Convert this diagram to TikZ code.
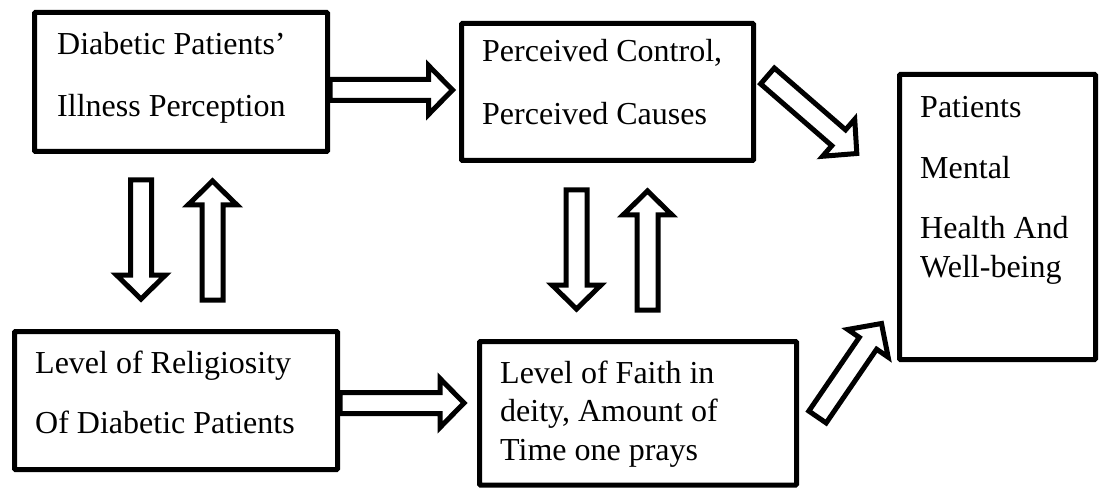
\documentclass[tikz,border=0pt]{standalone}
\usepackage{fontspec}
\setmainfont{Liberation Serif}
\usetikzlibrary{calc}
\tikzset{
  box/.style={draw=black, line width=5pt, inner sep=0pt, rounded corners=1pt},
  txt/.style={anchor=base west, inner sep=0pt, align=left, font=\fontsize{32}{38.5}\selectfont},
  barrow/.style={draw=black, line width=5pt, line join=miter, miter limit=10}
}
\newcommand{\blockarrow}[2]{%
  \path #1 coordinate (ba-s) #2 coordinate (ba-e);
  \path ($(ba-e)!24pt!(ba-s)$) coordinate (ba-h);
  \draw[barrow] ($(ba-s)!10.5pt!90:(ba-e)$) -- ($(ba-h)!10.5pt!-90:(ba-s)$)
     -- ($(ba-h)!24.5pt!-90:(ba-s)$) -- (ba-e) -- ($(ba-h)!24.5pt!90:(ba-s)$)
     -- ($(ba-h)!10.5pt!90:(ba-s)$) -- ($(ba-s)!10.5pt!-90:(ba-e)$) -- cycle;
}
\begin{document}
\begin{tikzpicture}[x=1pt,y=1pt]
\useasboundingbox (0,0) rectangle (1100,488);
% boxes
\node[box, minimum width=293pt, minimum height=139pt] (b1) at (181,406) {};
\node[box, minimum width=292pt, minimum height=137pt] (b2) at (607.5,396) {};
\node[box, minimum width=323pt, minimum height=138pt] (b3) at (176,87.5) {};
\node[box, minimum width=317pt, minimum height=143.5pt] (b4) at (638,74.75) {};
\node[box, minimum width=196pt, minimum height=285pt] (b5) at (997.5,271) {};
% texts (anchored at the baseline of the last line)
\node[txt] (t1) at (57,371) {Diabetic Patients’\\[23.5pt]Illness Perception};
\node[txt] (t2) at (482,363) {Perceived Control,\\[24.5pt]Perceived Causes};
\node[txt] (t3) at (35,55) {Level of Religiosity\\[21.5pt]Of Diabetic Patients};
\node[txt] (t4) at (500,28) {Level of Faith in\\deity, Amount of\\Time one prays};
\node[txt] (t5) at (920,211) {Patients\\[22.5pt]Mental\\[21.5pt]Health And\\Well-being};
% arrows
\blockarrow{($(b1.east)+(0,-8)$)}{($(b2.west)+(-6.5,2)$)}
\blockarrow{($(b3.east)+(0,-2.5)$)}{($(b4.west)+(-13,10.25)$)}
\blockarrow{($(b1.south)+(-40,-26)$)}{($(b3.north)+(-35,30)$)}
\blockarrow{($(b3.north)+(36.5,29)$)}{($(b1.south)+(31.5,-27)$)}
\blockarrow{($(b2.south)+(-31,-27)$)}{($(b4.north)+(-61.5,30)$)}
\blockarrow{($(b4.north)+(9.5,29)$)}{($(b2.south)+(40,-28)$)}
\blockarrow{($(b2.east)+(11.5,16)$)}{($(b5.north west)+(-40.2,-81.5)$)}
\blockarrow{($(b4.east)+(18.5,-3.75)$)}{($(b5.south west)+(-15.5,38.5)$)}
\end{tikzpicture}
\end{document}
